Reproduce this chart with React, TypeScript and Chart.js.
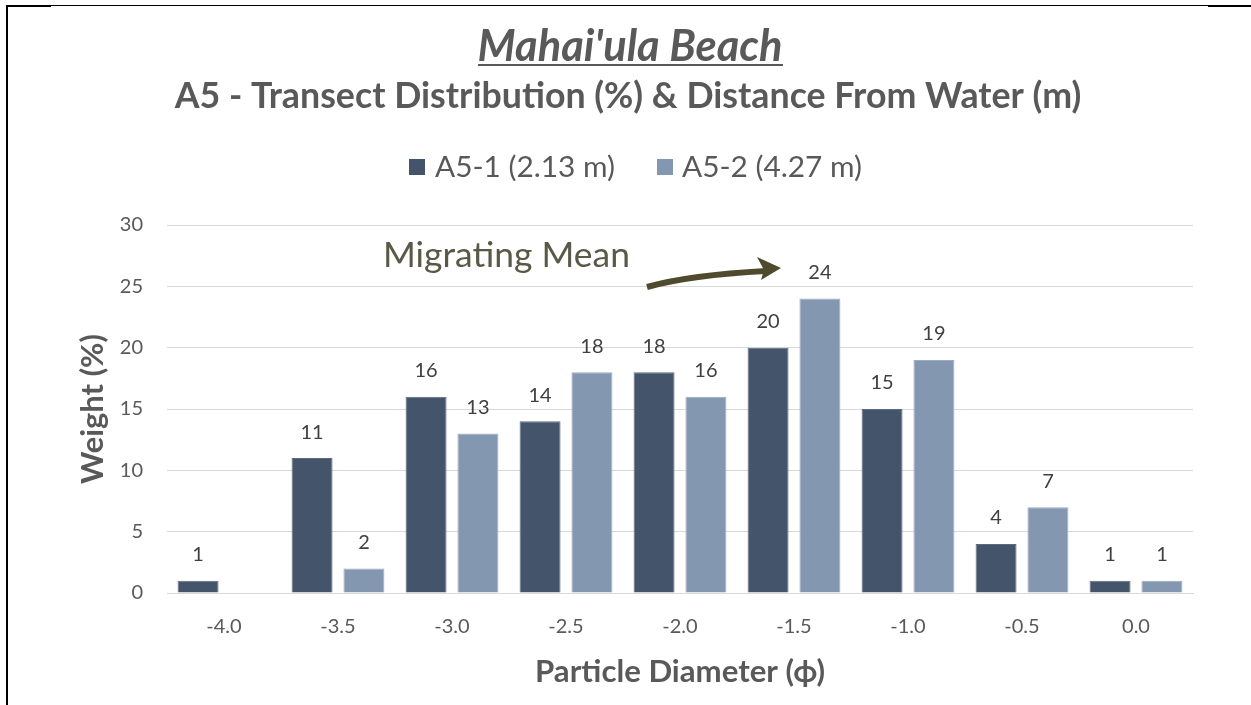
import React, { useEffect, useRef } from "react";
import { Chart, registerables } from "chart.js";

Chart.register(...registerables);

// Particle-size classes (phi units) on the x axis
const categories = ["-4.0", "-3.5", "-3.0", "-2.5", "-2.0", "-1.5", "-1.0", "-0.5", "0.0"];

// Weight percentages per transect sample
const seriesA51 = [1, 11, 16, 14, 18, 20, 15, 4, 1];
const seriesA52 = [null, 2, 13, 18, 16, 24, 19, 7, 1];

const seriesNames = ["A5-1 (2.13 m)", "A5-2 (4.27 m)"];
const seriesColors = ["#44546A", "#8497B0"];
const seriesEdges = ["#5d6b7f", "#9aaac0"];

const yMin = 0;
const yMax = 30;
const yStep = 5;

const titleText = "Mahai'ula Beach";
const subtitleText = "A5 - Transect Distribution (%) & Distance From Water (m)";
const xTitle = "Particle Diameter (\u03D5)";
const yTitle = "Weight (%)";
const noteText = "Migrating Mean";

const FONT = "Lato, 'Open Sans', sans-serif";
const GRAY = "#595959";
const LABEL = "#404040";
const OLIVE = "#4F4A2D";

// pick a font size so the text spans the given width
function fitSize(ctx: CanvasRenderingContext2D, text: string, style: string, width: number) {
  ctx.font = `${style} 100px ${FONT}`;
  const w = ctx.measureText(text).width;
  return (100 * width) / w;
}

function drawFitted(
  ctx: CanvasRenderingContext2D,
  text: string,
  style: string,
  width: number,
  x: number,
  y: number,
  align: CanvasTextAlign,
  baseline: CanvasTextBaseline
) {
  const size = fitSize(ctx, text, style, width);
  ctx.font = `${style} ${size}px ${FONT}`;
  ctx.textAlign = align;
  ctx.textBaseline = baseline;
  ctx.fillText(text, x, y);
}

const valueLabels = {
  id: "valueLabels",
  afterDatasetsDraw(chart: any) {
    const ctx = chart.ctx as CanvasRenderingContext2D;
    ctx.save();
    ctx.font = `20px ${FONT}`;
    ctx.fillStyle = LABEL;
    ctx.textAlign = "center";
    ctx.textBaseline = "middle";
    chart.data.datasets.forEach((ds: any, i: number) => {
      const meta = chart.getDatasetMeta(i);
      meta.data.forEach((bar: any, j: number) => {
        const v = ds.data[j];
        if (v == null) return;
        ctx.fillText(String(v), bar.x, bar.y - 26);
      });
    });
    ctx.restore();
  },
};

const decorations = {
  id: "decorations",
  afterDraw(chart: any) {
    const ctx = chart.ctx as CanvasRenderingContext2D;
    ctx.save();

    // frame edges
    ctx.fillStyle = "#000";
    ctx.fillRect(6, 5, 1245, 1);
    ctx.fillRect(7, 5, 44, 2);
    ctx.fillRect(1208, 5, 43, 2);
    ctx.fillRect(6, 5, 2, 700);

    // title + underline
    ctx.fillStyle = GRAY;
    drawFitted(ctx, titleText, "italic bold", 305, 630, 61, "center", "alphabetic");
    ctx.fillRect(478, 64, 305, 2);

    // subtitle
    drawFitted(ctx, subtitleText, "bold", 907, 628, 108, "center", "alphabetic");

    // legend
    chart.data.datasets.forEach((ds: any, i: number) => {
      const bx = i === 0 ? 409 : 657;
      const tx = i === 0 ? 435 : 682;
      ctx.fillStyle = ds.backgroundColor;
      ctx.fillRect(bx, 159, 16, 16);
      ctx.fillStyle = GRAY;
      drawFitted(ctx, ds.label, "normal", 180, tx, 167, "left", "middle");
    });

    // axis titles
    ctx.fillStyle = GRAY;
    drawFitted(ctx, xTitle, "bold", 290, 680, 672, "center", "middle");
    ctx.save();
    ctx.translate(93, 409);
    ctx.rotate(-Math.PI / 2);
    drawFitted(ctx, yTitle, "bold", 150, 0, 0, "center", "middle");
    ctx.restore();

    // annotation with curved arrow
    ctx.fillStyle = "#5a5846";
    drawFitted(ctx, noteText, "normal", 247, 383, 267, "left", "alphabetic");

    ctx.strokeStyle = OLIVE;
    ctx.fillStyle = OLIVE;
    ctx.lineWidth = 6;
    ctx.lineCap = "butt";
    ctx.beginPath();
    ctx.moveTo(647, 287);
    ctx.quadraticCurveTo(690, 275, 766, 271);
    ctx.stroke();
    ctx.beginPath();
    ctx.moveTo(781, 268);
    ctx.lineTo(757, 257);
    ctx.lineTo(764, 270);
    ctx.lineTo(761, 280);
    ctx.closePath();
    ctx.fill();

    ctx.restore();
  },
};

export default function App() {
  const canvasRef = useRef<HTMLCanvasElement | null>(null);

  useEffect(() => {
    const canvas = canvasRef.current;
    if (!canvas) return;
    const chart = new Chart(canvas, {
      type: "bar",
      data: {
        labels: categories,
        datasets: [
          {
            label: seriesNames[0],
            data: seriesA51,
            backgroundColor: seriesColors[0],
            borderColor: seriesEdges[0],
            borderWidth: 1,
            categoryPercentage: 0.91,
            barPercentage: 0.79,
          },
          {
            label: seriesNames[1],
            data: seriesA52 as any,
            backgroundColor: seriesColors[1],
            borderColor: seriesEdges[1],
            borderWidth: 1,
            categoryPercentage: 0.91,
            barPercentage: 0.79,
          },
        ],
      },
      options: {
        responsive: false,
        animation: false,
        layout: { padding: { top: 225, left: 0, right: 58, bottom: 0 } },
        plugins: {
          legend: { display: false },
          title: { display: false },
          tooltip: { enabled: false },
        },
        scales: {
          x: {
            grid: { display: false, drawTicks: false },
            border: { display: true, color: "#d9d9d9" },
            ticks: { color: GRAY, font: { family: FONT, size: 20 }, padding: 22 },
            afterFit: (s: any) => {
              s.height = 112;
            },
          },
          y: {
            min: yMin,
            max: yMax,
            ticks: { stepSize: yStep, color: GRAY, font: { family: FONT, size: 20 }, padding: 24 },
            grid: { color: "#d9d9d9", drawTicks: false },
            border: { display: false },
            afterFit: (s: any) => {
              s.width = 167;
            },
          },
        },
      },
      plugins: [valueLabels, decorations],
    });
    return () => chart.destroy();
  }, []);

  return (
    <div style={{ position: "fixed", left: 0, top: 0, width: 1251, height: 705, background: "#fff" }}>
      <canvas ref={canvasRef} width={1251} height={705} style={{ display: "block" }} />
    </div>
  );
}
